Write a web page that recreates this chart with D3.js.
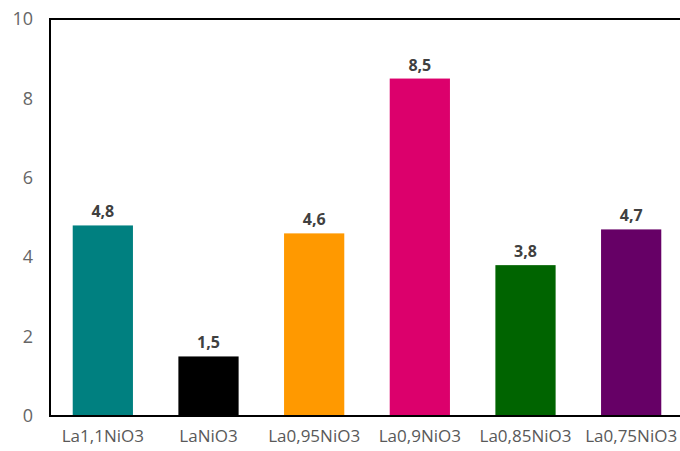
<!DOCTYPE html>
<html>
<head>
<meta charset="utf-8">
<script src="https://cdn.jsdelivr.net/npm/d3@7"></script>
<style>
  html, body { margin: 0; padding: 0; background: #fff; }
  svg { display: block; }
</style>
</head>
<body>
<svg id="chart" width="680" height="451"></svg>
<script>
// Samples and their measured values
const categories = ["La1,1NiO3", "LaNiO3", "La0,95NiO3", "La0,9NiO3", "La0,85NiO3", "La0,75NiO3"];
const values = [4.8, 1.5, 4.6, 8.5, 3.8, 4.7];
const valueLabels = ["4,8", "1,5", "4,6", "8,5", "3,8", "4,7"];
const barColors = ["#008080", "#000000", "#FF9900", "#DC006C", "#006400", "#660066"];
const yTicks = [0, 2, 4, 6, 8, 10];

const svg = d3.select("#chart");
const font = "'Open Sans', sans-serif";

const plotLeft = 50, plotTop = 19, plotBottom = 416, plotRight = 684;

const x = d3.scaleBand()
  .domain(categories)
  .range([plotLeft, plotRight])
  .paddingInner(0.43)
  .paddingOuter(0.215);

const y = d3.scaleLinear().domain([0, 10]).range([plotBottom, plotTop]);

// Bars
svg.append("g").selectAll("rect")
  .data(categories)
  .join("rect")
  .attr("x", d => x(d))
  .attr("width", x.bandwidth())
  .attr("y", (d, i) => y(values[i]))
  .attr("height", (d, i) => y(0) - y(values[i]))
  .attr("fill", (d, i) => barColors[i]);

// Value labels above bars
svg.append("g").selectAll("text")
  .data(categories)
  .join("text")
  .attr("x", d => x(d) + x.bandwidth() / 2)
  .attr("y", (d, i) => y(values[i]) - 8)
  .attr("text-anchor", "middle")
  .attr("font-family", font)
  .attr("font-weight", "bold")
  .attr("font-size", 16)
  .attr("fill", "#404040")
  .text((d, i) => valueLabels[i]);

// Y axis tick labels
const yAxis = d3.axisLeft(y).tickValues(yTicks).tickSize(0).tickPadding(17).tickFormat(d3.format("d"));
const gy = svg.append("g").attr("transform", `translate(${plotLeft},0)`).call(yAxis);
gy.select(".domain").remove();
gy.selectAll("text")
  .attr("font-family", font)
  .attr("font-size", 18)
  .attr("fill", "#666666");

// X axis category labels
const xAxis = d3.axisBottom(x).tickSize(0).tickPadding(14);
const gx = svg.append("g").attr("transform", `translate(0,${plotBottom})`).call(xAxis);
gx.select(".domain").remove();
gx.selectAll("text")
  .attr("font-family", font)
  .attr("font-size", 17)
  .attr("fill", "#595959");

// Plot frame (left, top, bottom)
const frame = svg.append("g")
  .attr("stroke", "#000")
  .attr("stroke-width", 2)
  .attr("fill", "none");
frame.append("path")
  .attr("d", `M${plotRight},${plotTop}H${plotLeft}V${plotBottom}H${plotRight}`);
</script>
</body>
</html>
